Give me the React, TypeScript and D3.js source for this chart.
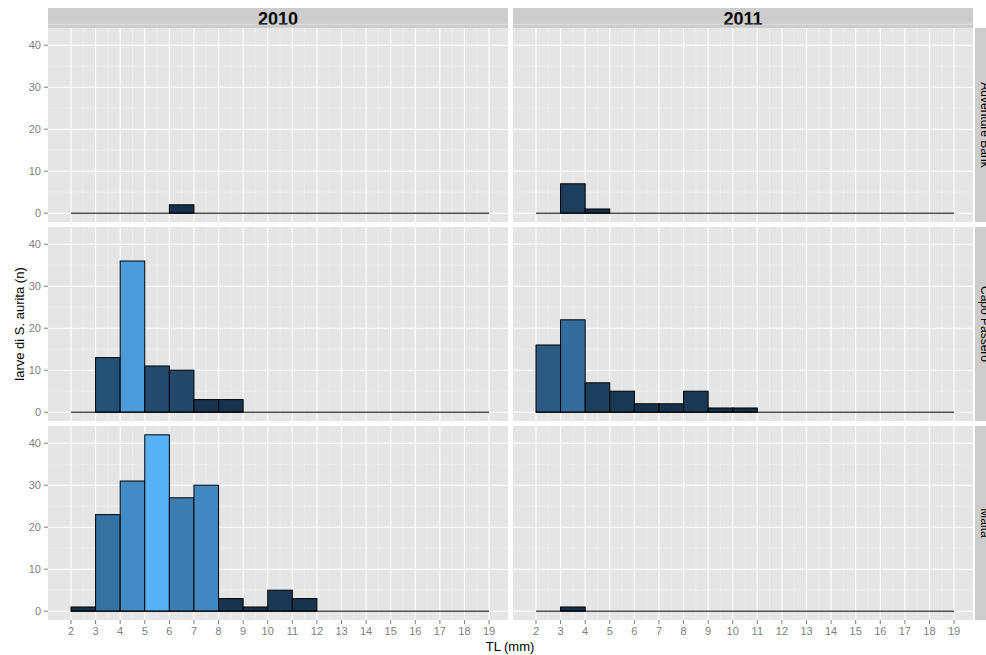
import * as d3 from 'd3';

const years = ['2010', '2011'];
const sites = ['Adventure Bank', 'Capo Passero', 'Malta'];
const binStarts = d3.range(2, 19);
const xTicks = d3.range(2, 20);
const yTicks = [0, 10, 20, 30, 40];

// counts per 1 mm bin, bins 2-3 ... 18-19
const adv2010 = [0, 0, 0, 0, 2, 0, 0, 0, 0, 0, 0, 0, 0, 0, 0, 0, 0];
const adv2011 = [0, 7, 1, 0, 0, 0, 0, 0, 0, 0, 0, 0, 0, 0, 0, 0, 0];
const capo2010 = [0, 13, 36, 11, 10, 3, 3, 0, 0, 0, 0, 0, 0, 0, 0, 0, 0];
const capo2011 = [16, 22, 7, 5, 2, 2, 5, 1, 1, 0, 0, 0, 0, 0, 0, 0, 0];
const malta2010 = [1, 23, 31, 42, 27, 30, 3, 1, 5, 3, 0, 0, 0, 0, 0, 0, 0];
const malta2011 = [0, 1, 0, 0, 0, 0, 0, 0, 0, 0, 0, 0, 0, 0, 0, 0, 0];

const grid = [
  [adv2010, adv2011],
  [capo2010, capo2011],
  [malta2010, malta2011],
];

const colLeft = [48, 513];
const panelW = 460;
const rowTop = [28, 227, 426];
const panelH = 194;

const x = d3.scaleLinear().domain([1.065, 19.77]).range([0, panelW]);
const y = d3.scaleLinear().domain([-2.1, 44.1]).range([panelH, 0]);
const color = d3.scaleLinear<string>().domain([0, 42]).range(['#132B43', '#56B1F7']).interpolate(d3.interpolateLab);

const font = 'Liberation Sans, Arial, sans-serif';

export default function App() {
  return (
    <svg width={986} height={655} style={{position: 'absolute', left: 0, top: 0}} fontFamily={font}>
      <rect width={986} height={655} fill="#fff" />
      {years.map((yr, c) => (
        <g key={yr} transform={`translate(${colLeft[c]},8)`}>
          <rect width={panelW} height={20} fill="#CCCCCC" />
          <text x={panelW / 2} y={17} textAnchor="middle" fontSize={18} fontWeight="bold">{yr}</text>
        </g>
      ))}
      {sites.map((s, r) => (
        <g key={s} transform={`translate(975,${rowTop[r]})`}>
          <rect width={20} height={panelH} fill="#CCCCCC" />
          <text transform={`translate(6,${panelH / 2}) rotate(90)`} textAnchor="middle" fontSize={12}>{s}</text>
        </g>
      ))}
      {grid.map((row, r) =>
        row.map((vals, c) => (
          <g key={`${r}-${c}`} transform={`translate(${colLeft[c]},${rowTop[r]})`}>
            <rect width={panelW} height={panelH} fill="#E5E5E5" />
            {yTicks.map(t => (
              <line key={'ym' + t} x1={0} x2={panelW} y1={y(t + 5)} y2={y(t + 5)} stroke="#F2F2F2" strokeWidth={0.6} />
            ))}
            {xTicks.slice(0, -1).map(t => (
              <line key={'xm' + t} x1={x(t + 0.5)} x2={x(t + 0.5)} y1={0} y2={panelH} stroke="#F2F2F2" strokeWidth={0.6} />
            ))}
            {yTicks.map(t => (
              <line key={'y' + t} x1={0} x2={panelW} y1={y(t)} y2={y(t)} stroke="#fff" strokeWidth={1.1} />
            ))}
            {xTicks.map(t => (
              <line key={'x' + t} x1={x(t)} x2={x(t)} y1={0} y2={panelH} stroke="#fff" strokeWidth={1.1} />
            ))}
            {vals.map((v, i) =>
              v > 0 ? (
                <rect key={i} x={x(binStarts[i])} width={x(binStarts[i] + 1) - x(binStarts[i])} y={y(v)} height={y(0) - y(v)} fill={color(v)} stroke="#000" strokeWidth={1} />
              ) : null
            )}
            <line x1={x(2)} x2={x(19)} y1={y(0)} y2={y(0)} stroke="#000" strokeWidth={1} />
            {c === 0 && yTicks.map(t => (
              <g key={'yl' + t}>
                <line x1={-4} x2={0} y1={y(t)} y2={y(t)} stroke="#7F7F7F" />
                <text x={-7} y={y(t) + 4} textAnchor="end" fontSize={11} fill="#7F7F7F">{t}</text>
              </g>
            ))}
            {r === 2 && xTicks.map(t => (
              <g key={'xl' + t}>
                <line x1={x(t)} x2={x(t)} y1={panelH} y2={panelH + 4} stroke="#7F7F7F" />
                <text x={x(t)} y={panelH + 15} textAnchor="middle" fontSize={11} fill="#7F7F7F">{t}</text>
              </g>
            ))}
          </g>
        ))
      )}
      <text x={510} y={651} textAnchor="middle" fontSize={13}>TL (mm)</text>
      <text transform="translate(24,324) rotate(-90)" textAnchor="middle" fontSize={13}>larve di S. aurita (n)</text>
    </svg>
  );
}
